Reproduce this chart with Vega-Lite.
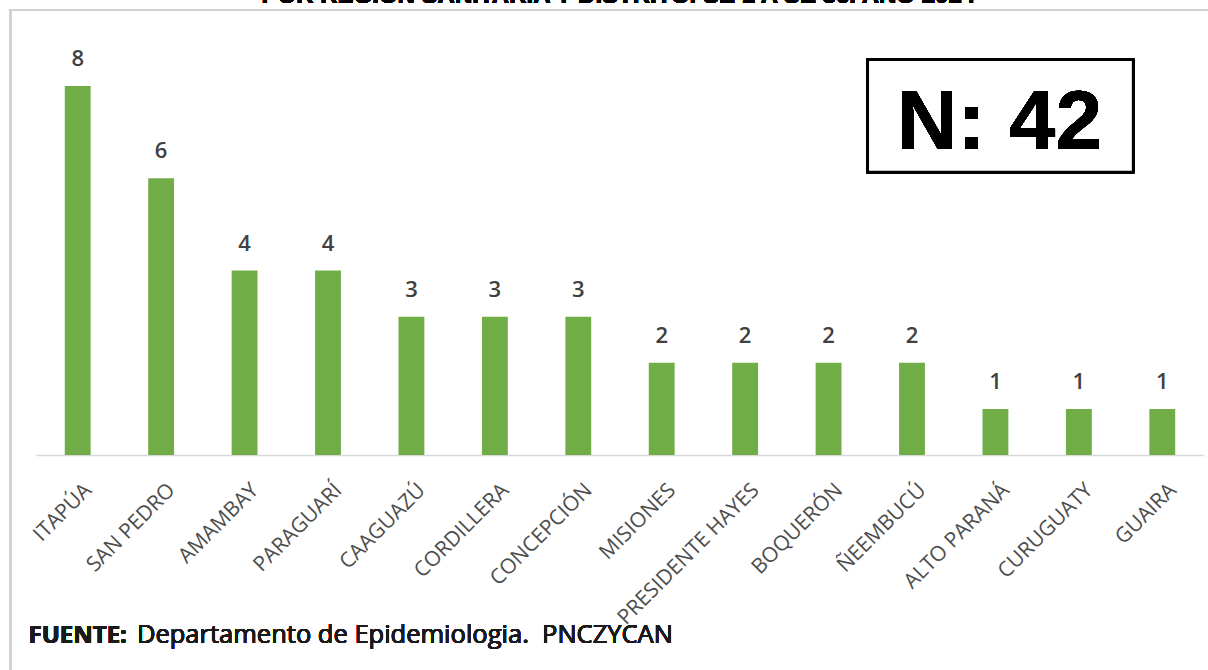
{
  "$schema": "https://vega.github.io/schema/vega-lite/v6.json",
  "autosize": {"type": "none"},
  "width": 1168,
  "height": 415,
  "padding": {"left": 36, "top": 40, "right": 4, "bottom": 215},
  "background": "white",
  "config": {"view": {"stroke": null}, "font": "Open Sans"},
  "data": {
    "values": [
      {"region": "ITAPÚA", "casos": 8},
      {"region": "SAN PEDRO", "casos": 6},
      {"region": "AMAMBAY", "casos": 4},
      {"region": "PARAGUARÍ", "casos": 4},
      {"region": "CAAGUAZÚ", "casos": 3},
      {"region": "CORDILLERA", "casos": 3},
      {"region": "CONCEPCIÓN", "casos": 3},
      {"region": "MISIONES", "casos": 2},
      {"region": "PRESIDENTE HAYES", "casos": 2},
      {"region": "BOQUERÓN", "casos": 2},
      {"region": "ÑEEMBUCÚ", "casos": 2},
      {"region": "ALTO PARANÁ", "casos": 1},
      {"region": "CURUGUATY", "casos": 1},
      {"region": "GUAIRA", "casos": 1}
    ]
  },
  "layer": [
    {
      "layer": [
        {
          "mark": {"type": "bar", "color": "#70AD47"},
          "encoding": {
            "x": {
              "field": "region", "type": "nominal", "sort": null,
              "scale": {"paddingInner": 0.69, "paddingOuter": 0.345},
              "axis": {
                "title": null, "labelAngle": -45, "labelFontSize": 21, "labelColor": "#4d4d4d",
                "labelFont": "Open Sans", "ticks": false, "domainColor": "#d9d9d9", "domainWidth": 1.5,
                "labelPadding": 24, "labelLimit": 400, "labelOffset": 3
              }
            },
            "y": {
              "field": "casos", "type": "quantitative",
              "scale": {"domain": [0, 9], "nice": false},
              "axis": null
            }
          }
        },
        {
          "mark": {"type": "text", "dy": -15, "fontSize": 22, "fontWeight": 600, "color": "#404040", "font": "Open Sans", "baseline": "bottom"},
          "encoding": {
            "x": {"field": "region", "type": "nominal", "sort": null},
            "y": {"field": "casos", "type": "quantitative"},
            "text": {"field": "casos", "type": "quantitative"}
          }
        }
      ]
    },
    {
      "layer": [
        {
          "mark": {"type": "rect", "fill": null, "stroke": "#d0d0d0", "strokeWidth": 2, "clip": false},
          "encoding": {
            "x": {"datum": -0.31, "type": "quantitative", "scale": {"domain": [0, 14], "nice": false, "zero": false}, "axis": null},
            "x2": {"datum": 15},
            "y": {"datum": 9.65, "type": "quantitative"},
            "y2": {"datum": -10}
          }
        },
        {
          "mark": {"type": "rect", "fill": "white", "stroke": "black", "strokeWidth": 2.5},
          "encoding": {
            "x": {"datum": 9.97, "type": "quantitative"},
            "x2": {"datum": 13.15},
            "y": {"datum": 8.57, "type": "quantitative"},
            "y2": {"datum": 6.14}
          }
        },
        {
          "mark": {"type": "text", "fontSize": 84, "fontWeight": "bold", "font": "Liberation Sans", "color": "black", "align": "center", "baseline": "alphabetic"},
          "encoding": {
            "x": {"datum": 11.55, "type": "quantitative"},
            "y": {"datum": 6.63, "type": "quantitative"},
            "text": {"value": "N: 42"}
          }
        },
        {
          "mark": {"type": "text", "fontSize": 24, "fontWeight": "bold", "font": "Open Sans", "color": "#1a1a1a", "align": "left", "baseline": "alphabetic"},
          "encoding": {
            "x": {"datum": -0.09, "type": "quantitative"},
            "y": {"datum": -4.08, "type": "quantitative"},
            "text": {"value": "FUENTE:"}
          }
        },
        {
          "mark": {"type": "text", "fontSize": 25.5, "fontWeight": "normal", "font": "Open Sans", "color": "#1a1a1a", "align": "left", "baseline": "alphabetic"},
          "encoding": {
            "x": {"datum": 1.21, "type": "quantitative"},
            "y": {"datum": -4.08, "type": "quantitative"},
            "text": {"value": "Departamento de Epidemiologia.\u00a0 PNCZYCAN"}
          }
        },
        {
          "mark": {"type": "text", "fontSize": 24, "fontWeight": "bold", "font": "Liberation Sans", "color": "black", "align": "center", "baseline": "alphabetic"},
          "encoding": {
            "x": {"datum": 6.98, "type": "quantitative"},
            "y": {"datum": 9.8, "type": "quantitative"},
            "text": {"value": "POR REGIÓN SANITARIA Y DISTRITO. SE 1 A SE 36. AÑO 2024"}
          }
        }
      ]
    }
  ],
  "resolve": {"scale": {"x": "independent"}}
}
